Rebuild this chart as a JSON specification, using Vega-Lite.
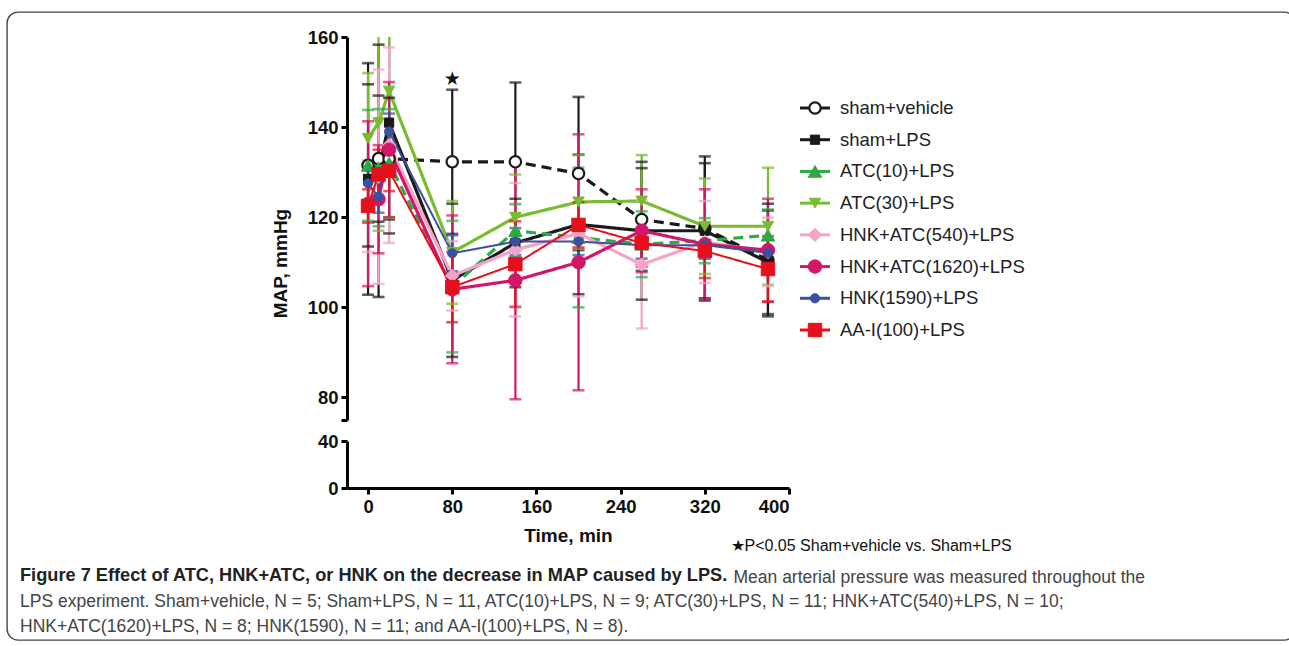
{
  "$schema": "https://vega.github.io/schema/vega-lite/v6.json",
  "width": 1289,
  "height": 646,
  "autosize": {"type": "fit", "contains": "padding"},
  "padding": {"left": 7, "top": 12, "right": -6, "bottom": 6},
  "background": "white",
  "config": {
    "view": {"stroke": "#444444", "strokeWidth": 1.4, "cornerRadius": 11, "fill": "white"},
    "font": "Liberation Sans",
    "axis": {
      "grid": false,
      "domainColor": "#000000",
      "domainWidth": 3,
      "tickColor": "#000000",
      "tickWidth": 3,
      "tickSize": 6,
      "labelFont": "Liberation Sans",
      "labelFontSize": 18.5,
      "labelFontWeight": "bold",
      "labelColor": "#111111",
      "labelPadding": 3,
      "titleFont": "Liberation Sans",
      "titleFontSize": 19,
      "titleFontWeight": "bold",
      "titleColor": "#111111"
    }
  },
  "title": {
    "text": "Figure 7 Effect of ATC, HNK+ATC, or HNK on the decrease in MAP caused by LPS.",
    "subtitle": [
      "LPS experiment. Sham+vehicle, N = 5; Sham+LPS, N = 11, ATC(10)+LPS, N = 9; ATC(30)+LPS, N = 11; HNK+ATC(540)+LPS, N = 10;",
      "HNK+ATC(1620)+LPS, N = 8; HNK(1590), N = 11; and AA-I(100)+LPS, N = 8)."
    ],
    "orient": "bottom",
    "anchor": "start",
    "frame": "group",
    "offset": -73,
    "dx": 13,
    "font": "Liberation Sans",
    "fontSize": 18.2,
    "fontWeight": "bold",
    "color": "#222222",
    "subtitleFont": "Liberation Sans",
    "subtitleFontSize": 17.5,
    "subtitleColor": "#444444",
    "subtitleLineHeight": 25.5,
    "subtitlePadding": 7.3
  },
  "datasets": {
    "main": [
      {"series": "sham+vehicle", "time": 0, "mean": 131.5, "lo": 113.5, "hi": 149.5},
      {"series": "sham+vehicle", "time": 10, "mean": 133, "lo": 119, "hi": 147},
      {"series": "sham+vehicle", "time": 20, "mean": 133, "lo": 119.5, "hi": 146.5},
      {"series": "sham+vehicle", "time": 80, "mean": 132.3, "lo": 116.3, "hi": 148.3},
      {"series": "sham+vehicle", "time": 140, "mean": 132.3, "lo": 114.7, "hi": 149.9},
      {"series": "sham+vehicle", "time": 200, "mean": 129.7, "lo": 112.7, "hi": 146.7},
      {"series": "sham+vehicle", "time": 260, "mean": 119.5, "lo": 108.1, "hi": 130.9},
      {"series": "sham+vehicle", "time": 320, "mean": 117.5, "lo": 101.5, "hi": 133.5},
      {"series": "sham+vehicle", "time": 380, "mean": 110.5, "lo": 98, "hi": 123},
      {"series": "sham+LPS", "time": 0, "mean": 128.5, "lo": 102.8, "hi": 154.2},
      {"series": "sham+LPS", "time": 10, "mean": 130.3, "lo": 102.3, "hi": 158.3},
      {"series": "sham+LPS", "time": 20, "mean": 141, "lo": 116.4, "hi": 165.6},
      {"series": "sham+LPS", "time": 80, "mean": 106, "lo": 89, "hi": 123},
      {"series": "sham+LPS", "time": 140, "mean": 114.3, "lo": 104.5, "hi": 124.1},
      {"series": "sham+LPS", "time": 200, "mean": 118.4, "lo": 102.9, "hi": 133.9},
      {"series": "sham+LPS", "time": 260, "mean": 117, "lo": 101.7, "hi": 132.3},
      {"series": "sham+LPS", "time": 320, "mean": 117, "lo": 102, "hi": 132},
      {"series": "sham+LPS", "time": 380, "mean": 110, "lo": 98.5, "hi": 121.5},
      {"series": "ATC(10)+LPS", "time": 0, "mean": 131.5, "lo": 119.2, "hi": 143.8},
      {"series": "ATC(10)+LPS", "time": 10, "mean": 131, "lo": 118, "hi": 144},
      {"series": "ATC(10)+LPS", "time": 20, "mean": 132, "lo": 120, "hi": 144},
      {"series": "ATC(10)+LPS", "time": 80, "mean": 104.6, "lo": 90, "hi": 119.2},
      {"series": "ATC(10)+LPS", "time": 140, "mean": 117, "lo": 111.1, "hi": 122.9},
      {"series": "ATC(10)+LPS", "time": 200, "mean": 115.5, "lo": 100, "hi": 131},
      {"series": "ATC(10)+LPS", "time": 260, "mean": 114, "lo": 106.7, "hi": 121.3},
      {"series": "ATC(10)+LPS", "time": 320, "mean": 114.8, "lo": 109.8, "hi": 119.8},
      {"series": "ATC(10)+LPS", "time": 380, "mean": 116, "lo": 110.3, "hi": 121.7},
      {"series": "ATC(30)+LPS", "time": 0, "mean": 137.5, "lo": 123, "hi": 152},
      {"series": "ATC(30)+LPS", "time": 10, "mean": 141, "lo": 117, "hi": 165},
      {"series": "ATC(30)+LPS", "time": 20, "mean": 148, "lo": 120, "hi": 176},
      {"series": "ATC(30)+LPS", "time": 80, "mean": 112.2, "lo": 100.8, "hi": 123.6},
      {"series": "ATC(30)+LPS", "time": 140, "mean": 120, "lo": 110.5, "hi": 129.5},
      {"series": "ATC(30)+LPS", "time": 200, "mean": 123.4, "lo": 113, "hi": 133.8},
      {"series": "ATC(30)+LPS", "time": 260, "mean": 123.6, "lo": 113.4, "hi": 133.8},
      {"series": "ATC(30)+LPS", "time": 320, "mean": 118, "lo": 107.4, "hi": 128.6},
      {"series": "ATC(30)+LPS", "time": 380, "mean": 118, "lo": 105, "hi": 131},
      {"series": "HNK+ATC(540)+LPS", "time": 0, "mean": 122.5, "lo": 112.3, "hi": 132.7},
      {"series": "HNK+ATC(540)+LPS", "time": 10, "mean": 129, "lo": 105.2, "hi": 152.8},
      {"series": "HNK+ATC(540)+LPS", "time": 20, "mean": 136, "lo": 114.3, "hi": 157.7},
      {"series": "HNK+ATC(540)+LPS", "time": 80, "mean": 107, "lo": 99.3, "hi": 114.7},
      {"series": "HNK+ATC(540)+LPS", "time": 140, "mean": 112.8, "lo": 98, "hi": 127.6},
      {"series": "HNK+ATC(540)+LPS", "time": 200, "mean": 116.4, "lo": 102.4, "hi": 130.4},
      {"series": "HNK+ATC(540)+LPS", "time": 260, "mean": 109.5, "lo": 95.3, "hi": 123.7},
      {"series": "HNK+ATC(540)+LPS", "time": 320, "mean": 114.5, "lo": 105.4, "hi": 123.6},
      {"series": "HNK+ATC(540)+LPS", "time": 380, "mean": 112.3, "lo": 104.7, "hi": 119.9},
      {"series": "HNK+ATC(1620)+LPS", "time": 0, "mean": 123, "lo": 104.7, "hi": 141.3},
      {"series": "HNK+ATC(1620)+LPS", "time": 10, "mean": 124, "lo": 112, "hi": 136},
      {"series": "HNK+ATC(1620)+LPS", "time": 20, "mean": 135, "lo": 120, "hi": 150},
      {"series": "HNK+ATC(1620)+LPS", "time": 80, "mean": 104, "lo": 87.6, "hi": 120.4},
      {"series": "HNK+ATC(1620)+LPS", "time": 140, "mean": 106, "lo": 79.6, "hi": 132.4},
      {"series": "HNK+ATC(1620)+LPS", "time": 200, "mean": 110, "lo": 81.6, "hi": 138.4},
      {"series": "HNK+ATC(1620)+LPS", "time": 260, "mean": 117, "lo": 107.8, "hi": 126.2},
      {"series": "HNK+ATC(1620)+LPS", "time": 320, "mean": 114, "lo": 101.8, "hi": 126.2},
      {"series": "HNK+ATC(1620)+LPS", "time": 380, "mean": 112.7, "lo": 101.3, "hi": 124.1},
      {"series": "HNK(1590)+LPS", "time": 0, "mean": 127.5, "lo": 123.5, "hi": 131.5},
      {"series": "HNK(1590)+LPS", "time": 10, "mean": 124.5, "lo": 121, "hi": 128},
      {"series": "HNK(1590)+LPS", "time": 20, "mean": 139, "lo": 135, "hi": 143},
      {"series": "HNK(1590)+LPS", "time": 80, "mean": 112, "lo": 108, "hi": 116},
      {"series": "HNK(1590)+LPS", "time": 140, "mean": 114.6, "lo": 111.6, "hi": 117.6},
      {"series": "HNK(1590)+LPS", "time": 200, "mean": 114.6, "lo": 111.6, "hi": 117.6},
      {"series": "HNK(1590)+LPS", "time": 260, "mean": 113.8, "lo": 110.8, "hi": 116.8},
      {"series": "HNK(1590)+LPS", "time": 320, "mean": 113.8, "lo": 110.8, "hi": 116.8},
      {"series": "HNK(1590)+LPS", "time": 380, "mean": 112.1, "lo": 109.1, "hi": 115.1},
      {"series": "AA-I(100)+LPS", "time": 0, "mean": 122.5, "lo": 118.8, "hi": 126.2},
      {"series": "AA-I(100)+LPS", "time": 10, "mean": 129.5, "lo": 124, "hi": 135},
      {"series": "AA-I(100)+LPS", "time": 20, "mean": 130.3, "lo": 125.8, "hi": 134.8},
      {"series": "AA-I(100)+LPS", "time": 80, "mean": 104.5, "lo": 96.7, "hi": 112.3},
      {"series": "AA-I(100)+LPS", "time": 140, "mean": 109.6, "lo": 100.1, "hi": 119.1},
      {"series": "AA-I(100)+LPS", "time": 200, "mean": 118.3, "lo": 113.3, "hi": 123.3},
      {"series": "AA-I(100)+LPS", "time": 260, "mean": 114.3, "lo": 109, "hi": 119.6},
      {"series": "AA-I(100)+LPS", "time": 320, "mean": 112.5, "lo": 106.5, "hi": 118.5},
      {"series": "AA-I(100)+LPS", "time": 380, "mean": 108.5, "lo": 101.2, "hi": 115.8}
    ],
    "legend": [
      {"series": "sham+vehicle"},
      {"series": "sham+LPS"},
      {"series": "ATC(10)+LPS"},
      {"series": "ATC(30)+LPS"},
      {"series": "HNK+ATC(540)+LPS"},
      {"series": "HNK+ATC(1620)+LPS"},
      {"series": "HNK(1590)+LPS"},
      {"series": "AA-I(100)+LPS"}
    ],
    "star": [{"time": 80, "value": 150.7, "label": "★"}],
    "zero": [{"v": 0}]
  },
  "layer": [
    {
      "data": {"name": "main"},
      "encoding": {
        "x": {
          "field": "time",
          "type": "quantitative",
          "title": "Time, min",
          "scale": {"domain": [-20, 400], "range": [340, 782], "nice": false, "zero": false},
          "axis": {"orient": "bottom", "offset": -152, "values": [0, 80, 160, 240, 320, 400], "titleY": 47, "titleBaseline": "middle"}
        }
      },
      "layer": [
        {
          "mark": {"type": "line", "strokeCap": "butt"},
          "encoding": {
            "y": {
              "field": "mean",
              "type": "quantitative",
              "title": "MAP, mmHg",
              "scale": {"domain": [75, 160], "range": [408, 25], "clamp": true, "nice": false, "zero": false},
              "axis": {"orient": "left", "offset": -340, "values": [75, 80, 100, 120, 140, 160], "labelExpr": "datum.value == 75 ? '' : datum.label", "titleX": -67, "titleY": 251, "titleAngle": 270, "titleAlign": "center", "titleBaseline": "middle"}
            },
            "stroke": {"field": "series", "type": "nominal", "legend": null, "scale": {"domain": ["sham+vehicle", "sham+LPS", "ATC(10)+LPS", "ATC(30)+LPS", "HNK+ATC(540)+LPS", "HNK+ATC(1620)+LPS", "HNK(1590)+LPS", "AA-I(100)+LPS"], "range": ["#1a1a1a", "#1a1a1a", "#2eaa45", "#78bc30", "#f4a3c9", "#d31768", "#3b4fa0", "#e6101c"]}},
            "strokeDash": {"field": "series", "type": "nominal", "legend": null, "scale": {"domain": ["sham+vehicle", "sham+LPS", "ATC(10)+LPS", "ATC(30)+LPS", "HNK+ATC(540)+LPS", "HNK+ATC(1620)+LPS", "HNK(1590)+LPS", "AA-I(100)+LPS"], "range": [[10, 6], [1, 0], [10, 6], [1, 0], [1, 0], [1, 0], [1, 0], [1, 0]]}},
            "strokeWidth": {"condition": {"test": "indexof(['HNK(1590)+LPS','AA-I(100)+LPS'], datum.series) >= 0", "value": 2}, "value": 3.2}
          }
        },
        {
          "mark": {"type": "rule", "strokeWidth": 2.2},
          "encoding": {
            "y": {"field": "lo", "type": "quantitative", "title": "MAP, mmHg", "scale": {"domain": [75, 160], "range": [408, 25], "clamp": true, "nice": false, "zero": false}},
            "y2": {"field": "hi"},
            "stroke": {"field": "series", "type": "nominal", "legend": null}
          }
        },
        {
          "transform": [{"filter": {"field": "lo", "gte": 75}}],
          "mark": {"type": "tick", "orient": "horizontal", "size": 12, "thickness": 2.6},
          "encoding": {
            "y": {"field": "lo", "type": "quantitative", "title": "MAP, mmHg", "scale": {"domain": [75, 160], "range": [408, 25], "clamp": true, "nice": false, "zero": false}},
            "fill": {"field": "series", "type": "nominal", "legend": null, "scale": {"domain": ["sham+vehicle", "sham+LPS", "ATC(10)+LPS", "ATC(30)+LPS", "HNK+ATC(540)+LPS", "HNK+ATC(1620)+LPS", "HNK(1590)+LPS", "AA-I(100)+LPS"], "range": ["#1a1a1a", "#1a1a1a", "#2eaa45", "#78bc30", "#f4a3c9", "#d31768", "#3b4fa0", "#e6101c"]}}
          }
        },
        {
          "transform": [{"filter": {"field": "hi", "lte": 160}}],
          "mark": {"type": "tick", "orient": "horizontal", "size": 12, "thickness": 2.6},
          "encoding": {
            "y": {"field": "hi", "type": "quantitative", "title": "MAP, mmHg", "scale": {"domain": [75, 160], "range": [408, 25], "clamp": true, "nice": false, "zero": false}},
            "fill": {"field": "series", "type": "nominal", "legend": null}
          }
        },
        {
          "mark": {"type": "point", "filled": true, "opacity": 1},
          "encoding": {
            "y": {"field": "mean", "type": "quantitative", "title": "MAP, mmHg", "scale": {"domain": [75, 160], "range": [408, 25], "clamp": true, "nice": false, "zero": false}},
            "shape": {"field": "series", "type": "nominal", "legend": null, "scale": {"domain": ["sham+vehicle", "sham+LPS", "ATC(10)+LPS", "ATC(30)+LPS", "HNK+ATC(540)+LPS", "HNK+ATC(1620)+LPS", "HNK(1590)+LPS", "AA-I(100)+LPS"], "range": ["circle", "square", "triangle-up", "triangle-down", "diamond", "circle", "circle", "square"]}},
            "fill": {"field": "series", "type": "nominal", "legend": null, "condition": {"test": "datum.series === 'sham+vehicle'", "value": "white"}},
            "stroke": {"field": "series", "type": "nominal", "legend": null},
            "strokeWidth": {"condition": {"test": "datum.series === 'sham+vehicle'", "value": 2.2}, "value": 1},
            "size": {"condition": [{"test": "indexof(['sham+LPS','HNK(1590)+LPS'], datum.series) >= 0", "value": 85}, {"test": "indexof(['sham+vehicle','ATC(30)+LPS'], datum.series) >= 0", "value": 130}], "value": 180}
          }
        },
        {
          "data": {"name": "star"},
          "mark": {"type": "text", "font": "DejaVu Sans", "fontSize": 19, "color": "#111111", "baseline": "middle", "align": "center"},
          "encoding": {
            "y": {"field": "value", "type": "quantitative", "title": "MAP, mmHg", "scale": {"domain": [75, 160], "range": [408, 25], "clamp": true, "nice": false, "zero": false}},
            "text": {"field": "label"}
          }
        }
      ]
    },
    {
      "data": {"name": "zero"},
      "mark": {"type": "point", "opacity": 0},
      "encoding": {
        "x": {
          "field": "v",
          "type": "quantitative",
          "scale": {"domain": [0, 1], "range": [100, 110], "nice": false, "zero": false},
          "axis": {"orient": "bottom", "offset": 0, "domain": false, "ticks": false, "labels": false, "title": "Mean arterial pressure was measured throughout the", "titleAngle": 0, "titleX": 726, "titleY": -63, "titleAlign": "left", "titleBaseline": "middle", "titleFontWeight": "normal", "titleFontSize": 17.5, "titleColor": "#444444"}
        },
        "y": {
          "field": "v",
          "type": "quantitative",
          "scale": {"domain": [0, 40], "range": [476, 429], "nice": false, "zero": false},
          "axis": {"orient": "left", "offset": -340, "values": [0, 40], "title": "★P<0.05 Sham+vehicle vs. Sham+LPS", "titleAngle": 0, "titleX": 383, "titleY": 533, "titleAlign": "left", "titleBaseline": "middle", "titleFontWeight": "normal", "titleFontSize": 16}
        }
      }
    },
    {
      "data": {"name": "legend"},
      "encoding": {
        "y": {"field": "series", "type": "nominal", "axis": null, "scale": {"type": "point", "domain": ["sham+vehicle", "sham+LPS", "ATC(10)+LPS", "ATC(30)+LPS", "HNK+ATC(540)+LPS", "HNK+ATC(1620)+LPS", "HNK(1590)+LPS", "AA-I(100)+LPS"], "range": [96, 318], "padding": 0}}
      },
      "layer": [
        {
          "mark": {"type": "rule", "strokeWidth": 3},
          "encoding": {
            "x": {"datum": 0, "type": "quantitative", "axis": null, "scale": {"domain": [0, 1], "range": [793, 823], "nice": false, "zero": false}},
            "x2": {"datum": 1},
            "stroke": {"field": "series", "type": "nominal", "legend": null}
          }
        },
        {
          "mark": {"type": "point", "filled": true, "opacity": 1},
          "encoding": {
            "x": {"datum": 0.5, "type": "quantitative", "axis": null, "scale": {"domain": [0, 1], "range": [793, 823], "nice": false, "zero": false}},
            "shape": {"field": "series", "type": "nominal", "legend": null},
            "fill": {"field": "series", "type": "nominal", "legend": null, "condition": {"test": "datum.series === 'sham+vehicle'", "value": "white"}},
            "stroke": {"field": "series", "type": "nominal", "legend": null},
            "strokeWidth": {"condition": {"test": "datum.series === 'sham+vehicle'", "value": 2.2}, "value": 1},
            "size": {"condition": [{"test": "indexof(['sham+LPS','HNK(1590)+LPS'], datum.series) >= 0", "value": 85}, {"test": "indexof(['sham+vehicle','ATC(30)+LPS'], datum.series) >= 0", "value": 130}], "value": 180}
          }
        },
        {
          "mark": {"type": "text", "align": "left", "baseline": "middle", "font": "Liberation Sans", "fontSize": 18.5, "color": "#222222"},
          "encoding": {
            "x": {"datum": 1.333, "type": "quantitative", "axis": null, "scale": {"domain": [0, 1], "range": [793, 823], "nice": false, "zero": false}},
            "text": {"field": "series"}
          }
        }
      ]
    }
  ],
  "resolve": {"scale": {"x": "independent", "y": "independent"}, "axis": {"x": "independent", "y": "independent"}}
}
